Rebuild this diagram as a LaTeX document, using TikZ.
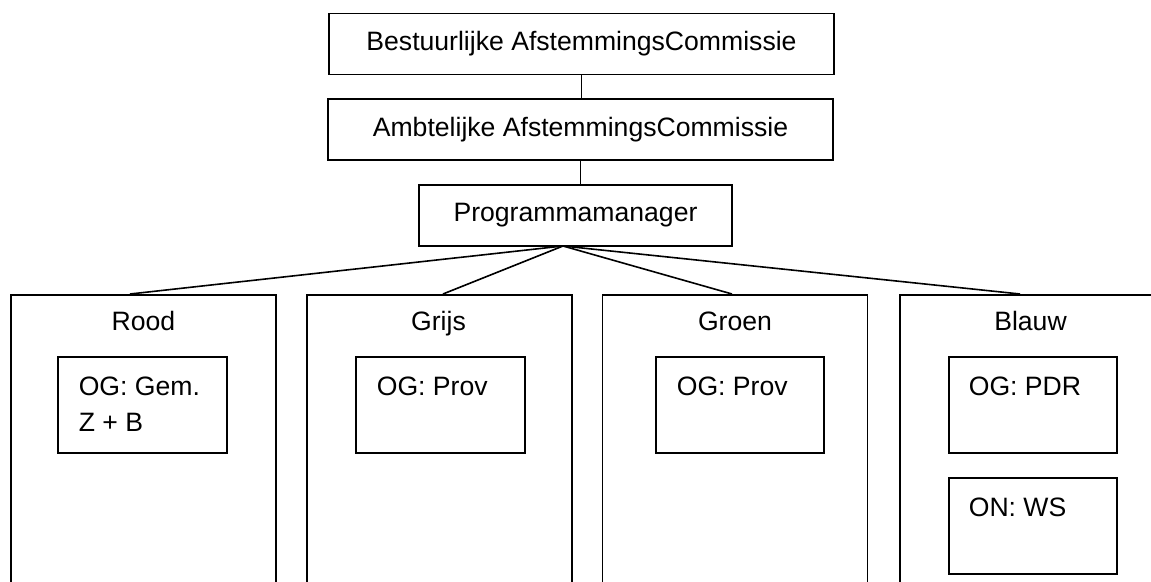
\documentclass[tikz,border=0pt]{standalone}
\usepackage{fontspec}
\setmainfont{Liberation Sans}
\usepackage{tikz}
\usetikzlibrary{positioning,calc}

\begin{document}
\begin{tikzpicture}[x=0.5pt, y=-0.5pt, line width=0.8pt,
    txt/.style={font=\fontsize{13.3}{18}\selectfont},
    topbox/.style={draw, txt, inner sep=0pt, minimum width=252.5pt, minimum height=30.5pt},
    frame/.style={draw, anchor=north, minimum width=132.5pt, minimum height=170pt},
    subbox/.style={draw, anchor=north west, minimum width=84.5pt, minimum height=48pt},
    subtxt/.style={txt, anchor=north west, inner sep=0pt, align=left}]
    \useasboundingbox (0,0) rectangle (1151,582);
    \clip (0,0) rectangle (1151,582);

    % top of the organisation
    \node[topbox] (bac) at (581.5, 44) {Bestuurlijke AfstemmingsCommissie};
    \node[topbox] (aac) at (580.5, 129.5) {Ambtelijke AfstemmingsCommissie};
    \node[topbox, minimum width=156.5pt] (pm) at (575.5, 215.5) {Programmamanager};

    \draw (bac.south) -- (bac.south |- aac.north);
    \draw (aac.south) -- (aac.south |- pm.north);

    % the four colour teams
    \node[frame] (rood) at (143.5, 294) {};
    \node[frame] (grijs) at (439.5, 294) {};
    \node[frame] (groen) at (735, 294) {};
    \node[frame] (blauw) at (1032.5, 294) {};

    \node[txt, anchor=base] (roodt) at ($(rood.north)+(0,37)$) {Rood};
    \node[txt, anchor=base] (grijst) at ($(grijs.north)+(-1,37)$) {Grijs};
    \node[txt, anchor=base] (groent) at ($(groen.north)+(0,37)$) {Groen};
    \node[txt, anchor=base] (blauwt) at ($(blauw.north)+(-2,37)$) {Blauw};

    \coordinate (hub) at (563, 246);
    \coordinate (roodin) at (130, 294);
    \coordinate (grijsin) at (443, 294);
    \coordinate (groenin) at (732, 294);
    \coordinate (blauwin) at (1020, 294);
    \draw (hub) -- (roodin);
    \draw (hub) -- (grijsin);
    \draw (hub) -- (groenin);
    \draw (hub) -- (blauwin);

    % partners per team
    \node[subbox] (ogrood) at (57, 356) {};
    \node[subbox] (oggrijs) at (355, 356) {};
    \node[subbox, minimum width=84pt] (oggroen) at (655, 356) {};
    \node[subbox, minimum width=84pt] (ogblauw) at (948, 356) {};
    \node[subbox, minimum width=84pt] (onblauw) at (948, 477) {};

    \node[subtxt] at ($(ogrood.north west)+(21,20)$) {OG: Gem.\\Z + B};
    \node[subtxt] at ($(oggrijs.north west)+(21,20)$) {OG: Prov};
    \node[subtxt] at ($(oggroen.north west)+(21,20)$) {OG: Prov};
    \node[subtxt] at ($(ogblauw.north west)+(20,20)$) {OG: PDR};
    \node[subtxt] at ($(onblauw.north west)+(20,20)$) {ON: WS};
\end{tikzpicture}
\end{document}
